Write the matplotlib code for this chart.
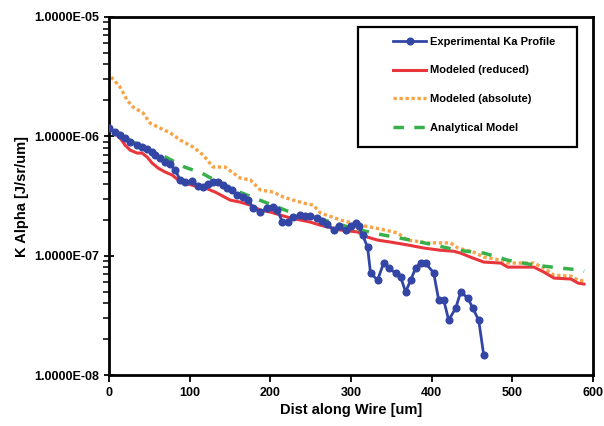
import matplotlib.pyplot as plt
from matplotlib.patches import Rectangle

plt.rcParams['font.family'] = ['Liberation Sans', 'DejaVu Sans']
plt.rcParams['font.weight'] = 'bold'

# experimental K-alpha profile
exp_x = [0, 7.5, 13.7, 19.9, 26.1, 34.8, 41.0, 47.2, 53.4, 57.1, 63.4, 69.6, 75.8, 82.0,
         88.2, 94.4, 103.1, 110.5, 116.7, 123, 129, 135, 141.6, 146.6, 152.8, 159, 166.4,
         172.6, 178.8, 187.5, 196.2, 203.7, 208.7, 214.9, 222.4, 228.5, 237.3, 243.5,
         249.7, 258.4, 264.6, 270.8, 278.3, 284.5, 293.2, 299.4, 305.6, 309.3, 314.3,
         320.5, 324.2, 332.9, 340.4, 346.6, 355.3, 361.5, 367.7, 373.9, 380.1, 386.3,
         392.5, 402.5, 408.7, 414.9, 421.1, 429.8, 436, 444.7, 450.9, 458.3, 464.5]
exp_y = [1.17e-6, 1.09e-6, 1.03e-6, 9.7e-7, 8.96e-7, 8.45e-7, 8.13e-7, 7.83e-7, 7.38e-7,
         6.97e-7, 6.58e-7, 6.09e-7, 5.86e-7, 5.22e-7, 4.31e-7, 4.14e-7, 4.22e-7, 3.83e-7,
         3.76e-7, 3.98e-7, 4.14e-7, 4.14e-7, 3.91e-7, 3.69e-7, 3.55e-7, 3.22e-7, 3.10e-7,
         2.92e-7, 2.51e-7, 2.32e-7, 2.51e-7, 2.55e-7, 2.41e-7, 1.91e-7, 1.91e-7, 2.11e-7,
         2.19e-7, 2.15e-7, 2.15e-7, 2.07e-7, 1.95e-7, 1.84e-7, 1.64e-7, 1.77e-7, 1.64e-7,
         1.77e-7, 1.88e-7, 1.77e-7, 1.49e-7, 1.18e-7, 7.15e-8, 6.24e-8, 8.67e-8, 7.87e-8,
         7.15e-8, 6.62e-8, 4.96e-8, 6.24e-8, 7.87e-8, 8.67e-8, 8.67e-8, 7.15e-8, 4.25e-8,
         4.25e-8, 2.88e-8, 3.64e-8, 4.96e-8, 4.42e-8, 3.64e-8, 2.88e-8, 1.47e-8]

# modeled (reduced)
red_x = [0, 3.7, 13.7, 19.9, 26.1, 34.8, 41.0, 47.2, 53.4, 60.9, 69.6, 78.3, 85.7, 94.4,
         106.8, 119.3, 131.7, 150.3, 162.7, 175.2, 187.6, 200, 212.4, 224.8, 237.3, 249.7,
         262.1, 287, 308, 320.5, 333, 349, 370, 390, 411, 427, 436, 448, 464.5, 485.6,
         494.4, 526.7, 539, 551.6, 572.7, 581.4, 588.8]
red_y = [1.17e-6, 1.13e-6, 9.68e-7, 8.45e-7, 7.67e-7, 7.24e-7, 7.24e-7, 6.71e-7, 5.97e-7,
         5.42e-7, 5.02e-7, 4.74e-7, 4.31e-7, 4.06e-7, 3.83e-7, 3.69e-7, 3.41e-7, 2.92e-7,
         2.81e-7, 2.65e-7, 2.41e-7, 2.32e-7, 2.19e-7, 2.07e-7, 1.99e-7, 1.91e-7, 1.80e-7,
         1.64e-7, 1.58e-7, 1.43e-7, 1.35e-7, 1.30e-7, 1.23e-7, 1.16e-7, 1.11e-7, 1.09e-7,
         1.05e-7, 9.73e-8, 8.84e-8, 8.67e-8, 8.02e-8, 8.02e-8, 7.29e-8, 6.49e-8, 6.37e-8,
         5.89e-8, 5.78e-8]

# modeled (absolute)
abs_x = [2.5, 13.7, 22.4, 29.8, 42.2, 50.9, 63.4, 75.8, 88.2, 104.3, 116.7, 129, 144, 154,
         162.7, 175.2, 187.6, 203.7, 216, 228.5, 241, 253.4, 262, 287, 311.8, 336.6, 357.8,
         370, 395, 423.6, 432.3, 452.2, 464.5, 485.7, 494.4, 526.7, 539, 551.6, 572.7,
         581.4, 588.8]
abs_y = [3.14e-6, 2.59e-6, 2.01e-6, 1.76e-6, 1.57e-6, 1.29e-6, 1.17e-6, 1.07e-6, 9.31e-7,
         8.13e-7, 6.97e-7, 5.53e-7, 5.53e-7, 4.92e-7, 4.47e-7, 4.31e-7, 3.55e-7, 3.41e-7,
         3.10e-7, 2.92e-7, 2.76e-7, 2.65e-7, 2.28e-7, 1.99e-7, 1.80e-7, 1.67e-7, 1.55e-7,
         1.35e-7, 1.28e-7, 1.28e-7, 1.16e-7, 1.07e-7, 9.73e-8, 9.18e-8, 8.67e-8, 8.67e-8,
         7.87e-8, 6.87e-8, 6.74e-8, 6.24e-8, 6.12e-8]

# analytical model
ana_x = [0, 3.7, 20, 45, 70, 94, 115, 146.6, 171, 196, 221, 246, 271, 293, 311, 340, 374,
         403, 432, 465, 494, 527, 560, 585, 589]
ana_y = [1.17e-6, 1.13e-6, 9.68e-7, 7.97e-7, 6.70e-7, 5.52e-7, 4.92e-7, 3.76e-7, 3.22e-7,
         2.76e-7, 2.37e-7, 2.15e-7, 1.95e-7, 1.77e-7, 1.64e-7, 1.49e-7, 1.35e-7, 1.23e-7,
         1.11e-7, 1.05e-7, 9.18e-8, 8.34e-8, 7.87e-8, 7.57e-8, 7.4e-8]

yticks = [1e-8, 1e-7, 1e-6, 1e-5]
ylabels = ['1.0000E-08', '1.0000E-07', '1.0000E-06', '1.0000E-05']

fig = plt.figure(figsize=(6.04, 4.26), dpi=100)
ax = fig.add_axes([0.1805, 0.1197, 0.8013, 0.8404])

ax.plot(red_x, red_y, color='#e8363c', lw=2.2, label='Modeled (reduced)', zorder=3)
ax.plot(abs_x, abs_y, color='#f7a347', lw=2.4, ls=(0, (1, 0.8)), dash_capstyle='butt',
        label='Modeled (absolute)', zorder=2)
ax.plot(ana_x, ana_y, color='#38b04a', lw=2.5, ls=(0, (3, 3)), label='Analytical Model', zorder=4)
ax.plot(exp_x, exp_y, color='#3346a6', lw=2, marker='o', ms=4.8,
        label='Experimental Ka Profile', zorder=5)

ax.set_yscale('log')
ax.set_ylim(1e-8, 1e-5)
ax.set_xlim(0, 600)
ax.set_yticks(yticks)
ax.set_yticklabels(ylabels)
ax.set_xticks(range(0, 700, 100))
ax.tick_params(axis='both', labelsize=9, width=1.3, colors='black')
ax.tick_params(axis='y', which='major', direction='inout', length=7)
ax.tick_params(axis='y', which='minor', direction='out', length=4, width=1.1)
ax.tick_params(axis='x', direction='out', length=5)
for s in ax.spines.values():
    s.set_linewidth(2)

ax.set_xlabel('Dist along Wire [um]', fontsize=10.5, fontweight='bold', labelpad=3)
ax.set_ylabel('K Alpha [J/sr/um]', fontsize=10.5, fontweight='bold', labelpad=4)

h, l = ax.get_legend_handles_labels()
order = [3, 0, 1, 2]
leg = ax.legend([h[i] for i in order], [l[i] for i in order], loc='upper left',
                bbox_to_anchor=(0.587, 0.945), borderaxespad=0, borderpad=0,
                frameon=False, prop={'size': 8, 'weight': 'bold'},
                handlelength=3, handletextpad=0.35, labelspacing=1.69)
ax.add_patch(Rectangle((0.514, 0.637), 0.453, 0.335, transform=ax.transAxes,
                       fill=False, lw=1.6, edgecolor='black', zorder=6))

fig.savefig('out.png', dpi=100)
